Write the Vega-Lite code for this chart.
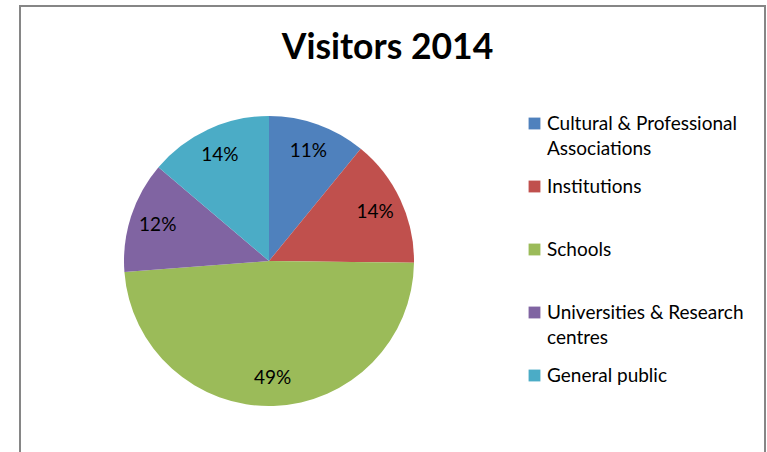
{
  "$schema": "https://vega.github.io/schema/vega-lite/v6.json",
  "width": 745,
  "height": 460,
  "autosize": "none",
  "padding": {"left": 20, "top": 6, "right": 2, "bottom": 0},
  "background": "white",
  "view": {"stroke": "#868686", "strokeWidth": 2, "fill": "white"},
  "title": {
    "text": "Visitors 2014",
    "font": "Lato",
    "fontSize": 35.5,
    "fontWeight": "bold",
    "color": "#000000",
    "anchor": "middle",
    "frame": "group",
    "offset": 0,
    "dx": -5,
    "dy": 60
  },
  "config": {
    "view": {"stroke": "#868686", "strokeWidth": 2},
    "font": "Lato",
    "style": {"guide-label": {"lineHeight": 25}}
  },
  "data": {
    "values": [
      {"category": "Cultural & Professional Associations", "share": 10.9, "idx": 1, "label": "11%"},
      {"category": "Institutions", "share": 14.3, "idx": 2, "label": "14%"},
      {"category": "Schools", "share": 48.6, "idx": 3, "label": "49%"},
      {"category": "Universities & Research centres", "share": 12.4, "idx": 4, "label": "12%"},
      {"category": "General public", "share": 13.8, "idx": 5, "label": "14%"}
    ]
  },
  "encoding": {
    "theta": {"field": "share", "type": "quantitative", "stack": true},
    "order": {"field": "idx", "type": "quantitative"}
  },
  "layer": [
    {
      "mark": {"type": "arc", "outerRadius": 145, "x": 249, "y": 255},
      "encoding": {
        "color": {
          "field": "category",
          "type": "nominal",
          "scale": {
            "domain": ["Cultural & Professional Associations", "Institutions", "Schools", "Universities & Research centres", "General public"],
            "range": ["#4F81BD", "#C0504D", "#9BBB59", "#8064A2", "#4BACC6"]
          },
          "legend": {
            "title": null,
            "orient": "none",
            "legendX": 505,
            "legendY": 108,
            "padding": 0,
            "symbolType": "square",
            "symbolSize": 140,
            "symbolStrokeWidth": 0,
            "labelFont": "Lato",
            "labelFontSize": 19,
            "labelColor": "#000000",
            "labelLimit": 300,
            "labelOffset": 3,
            "gridAlign": "all",
            "rowPadding": 18,
            "labelExpr": "datum.label == 'Cultural & Professional Associations' ? ['Cultural & Professional', 'Associations'] : datum.label == 'Universities & Research centres' ? ['Universities & Research', 'centres'] : datum.label"
          }
        }
      }
    },
    {
      "mark": {"type": "text", "radius": 117, "x": 249, "y": 255, "font": "Lato", "fontSize": 19, "color": "#000000"},
      "encoding": {
        "text": {"field": "label", "type": "nominal"}
      }
    }
  ]
}
